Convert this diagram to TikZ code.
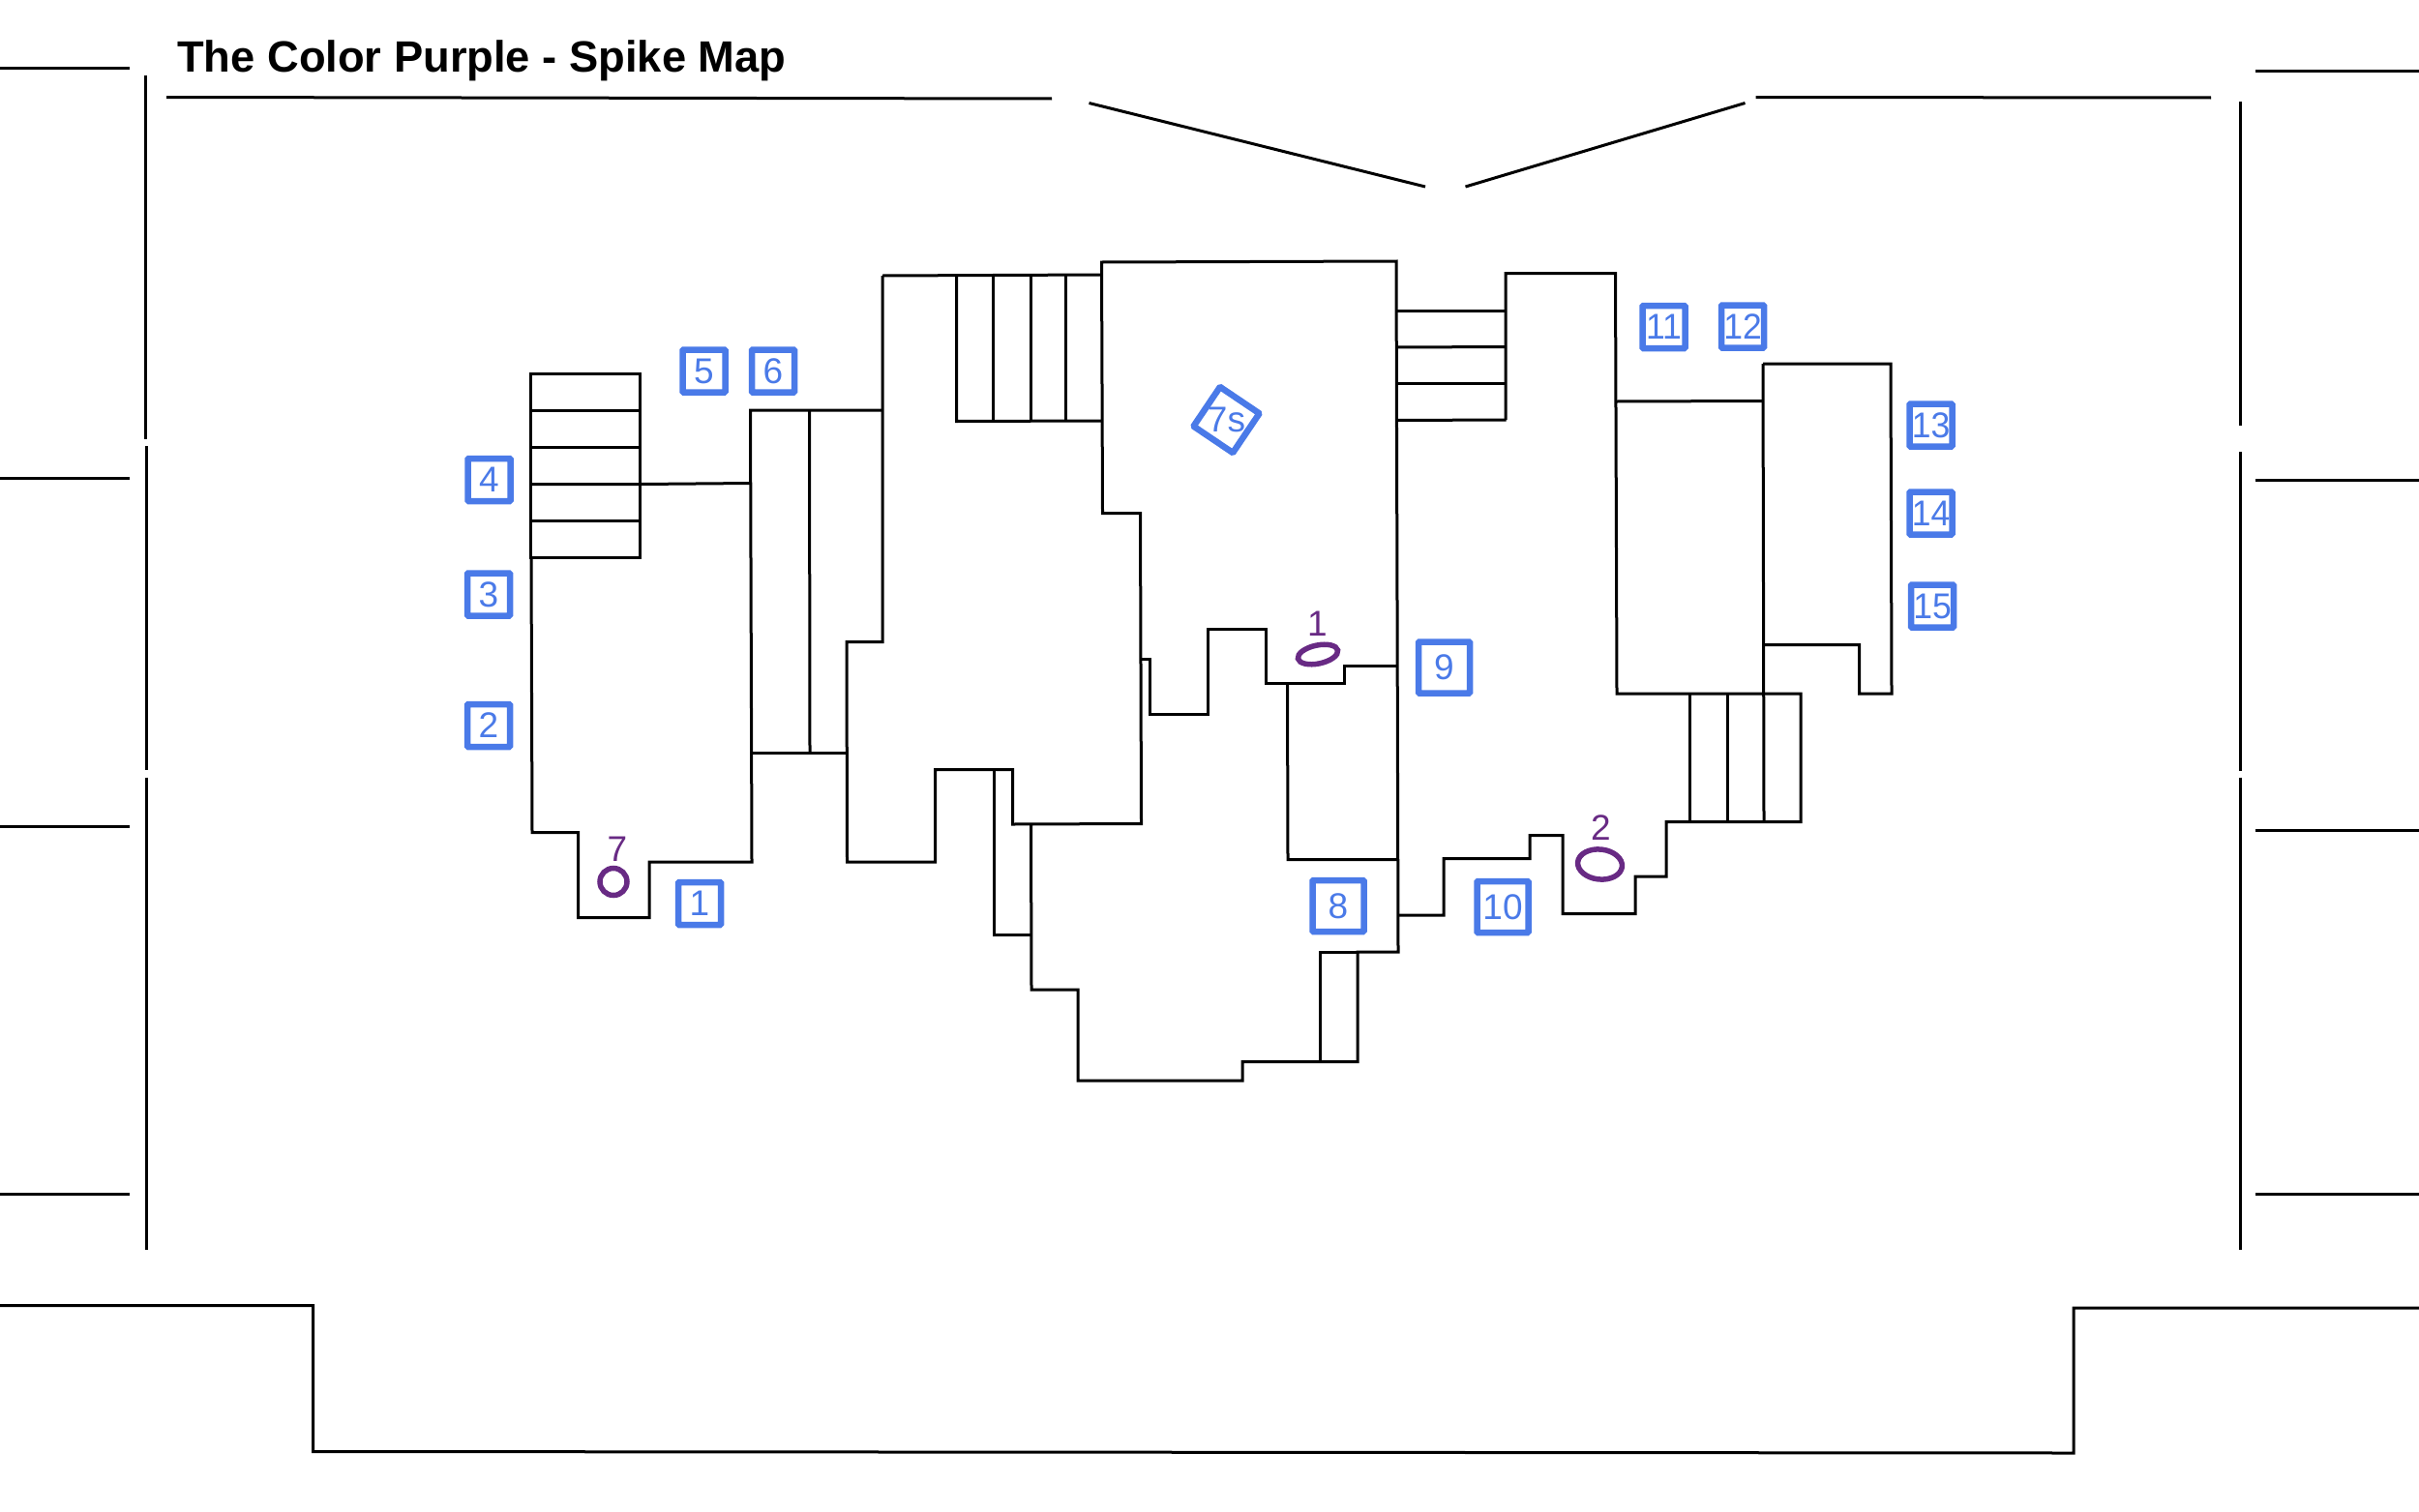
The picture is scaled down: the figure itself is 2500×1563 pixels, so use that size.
\documentclass[tikz,border=0pt]{standalone}
\usepackage{fontspec}
\setmainfont{Liberation Sans}
\newfontfamily\narrowdigits[FakeStretch=0.96]{Liberation Sans}
\usepackage{tikz}
\usetikzlibrary{shapes,arrows,positioning}
\definecolor{spikeblue}{RGB}{74,122,232}
\definecolor{plantpurple}{RGB}{104,42,132}
\tikzset{
  wall/.style={black,line width=3pt,line join=miter},
  spike/.style={draw=spikeblue,text=spikeblue,line width=6.5pt,rounded corners=1pt,
    minimum size=44pt,inner sep=0pt,font=\fontsize{37}{37}\selectfont},
  bigspike/.style={spike,minimum size=53pt},
  wideno/.style={font=\fontsize{37}{37}\selectfont\narrowdigits},
  plantname/.style={text=plantpurple,inner sep=0pt,font=\fontsize{37}{37}\selectfont},
  plant/.style={draw=plantpurple,line width=5.5pt,ellipse,inner sep=0pt},
}
\begin{document}
\begin{tikzpicture}[x=1pt,y=-1pt]
\useasboundingbox (0,0) rectangle (2500,1563);
\node[anchor=base west,inner sep=0pt,font=\fontsize{45.3}{45.3}\selectfont\bfseries] (title)
  at (183,74.5) {The Color Purple - Spike Map};
% outer frame
\draw[wall] (0,70.5) -- (133.5,70.5);
\draw[wall] (0,494.5) -- (133.5,494.5);
\draw[wall] (0,854.5) -- (133.5,854.5);
\draw[wall] (0,1234.5) -- (133.5,1234.5);
\draw[wall] (150,78) -- (150,454);
\draw[wall] (151.5,461) -- (151.5,796);
\draw[wall] (151.5,803.5) -- (151.5,1291.5);
\draw[wall] (172,100.5) -- (1087,102);
\draw[wall] (1125.5,106.5) -- (1473,193);
\draw[wall] (1514.5,193) -- (1803.5,106.5);
\draw[wall] (1814.5,100.5) -- (2285,101);
\draw[wall] (2331,73.5) -- (2500,73.5);
\draw[wall] (2331,496) -- (2500,496);
\draw[wall] (2331,858) -- (2500,858);
\draw[wall] (2331,1234.5) -- (2500,1234.5);
\draw[wall] (2315,105) -- (2315,440);
\draw[wall] (2315,467) -- (2315,797);
\draw[wall] (2315,803.5) -- (2315,1291.5);
\draw[wall] (0,1349.5) -- (323.5,1349.5) -- (323.5,1500.5) -- (2143,1502) -- (2143,1352) -- (2500,1352);
% left site
\draw[wall] (548.5,386) rectangle (661.5,576.5);
\draw[wall] (548.5,424) -- (661.5,424);
\draw[wall] (548.5,462) -- (661.5,462);
\draw[wall] (548.5,500.5) -- (661.5,500.5) -- (775.5,499.5);
\draw[wall] (548.5,538) -- (661.5,538);
\draw[wall] (549,576) -- (550,860.5) -- (597.5,860.5) -- (597.5,948.5) -- (671,948.5) -- (671,891)
  -- (777,891) -- (775.5,424) -- (912,424);
\draw[wall] (836.5,424) -- (837,778);
\draw[wall] (776,778) -- (875,778);
% middle
\draw[wall] (912,285) -- (912,663.5) -- (875,663.5) -- (875.5,891) -- (966.5,891) -- (966.5,795.5)
  -- (1046.5,795.5) -- (1046.5,852) -- (1179.5,851.5) -- (1178.5,530.5) -- (1139.5,530.5)
  -- (1138.5,271) -- (1443,270) -- (1445,984) -- (1403,984) -- (1403,1097.5) -- (1284,1097.5)
  -- (1284,1117) -- (1114,1117) -- (1114,1023) -- (1066,1023) -- (1065.5,852);
\draw[wall] (912,285) -- (1139,284);
\draw[wall] (988.5,285) -- (988.5,435.5) -- (1139,435);
\draw[wall] (1026.5,285) -- (1026.5,435.5);
\draw[wall] (1065,285) -- (1065,435.5);
\draw[wall] (1101.5,285) -- (1101.5,435.5);
\draw[wall] (1027,795.5) -- (1027,966) -- (1065.5,966);
\draw[wall] (1179.5,681) -- (1188.5,681) -- (1188.5,738) -- (1248.5,738) -- (1248.5,650) -- (1308,650)
  -- (1308,706.5) -- (1389.5,706.5) -- (1389.5,688) -- (1444,688);
\draw[wall] (1330.5,706.5) -- (1331,888.5) -- (1445,888.5);
\draw[wall] (1364.5,1097.5) -- (1364.5,984) -- (1403,984);
% right site
\draw[wall] (1443.5,321) -- (1556,321);
\draw[wall] (1443.5,359) -- (1556,358.5);
\draw[wall] (1443.5,396) -- (1556,396);
\draw[wall] (1443.5,434.5) -- (1556.5,434);
\draw[wall] (1556,434) -- (1556,282.5) -- (1669.5,282.5) -- (1671,717) -- (1861,717) -- (1861,849.5)
  -- (1722,849.5) -- (1722,906) -- (1690,906) -- (1690,944.5) -- (1615,944.5) -- (1615,863.5)
  -- (1581,863.5) -- (1581,887.5) -- (1492,887.5) -- (1492,946) -- (1445,946);
\draw[wall] (1670.5,415) -- (1822,414.5);
\draw[wall] (1746.5,717) -- (1746.5,849.5);
\draw[wall] (1785,717) -- (1785,849.5);
\draw[wall] (1822,376) -- (1823,849.5);
\draw[wall] (1822,376) -- (1954,376) -- (1955,717) -- (1921.5,717) -- (1921.5,666.5) -- (1823,666.5);
% spikes
\node[spike] (s1) at (723,934) {1};
\node[spike] (s2) at (505,750) {2};
\node[spike] (s3) at (505,614.5) {3};
\node[spike] (s4) at (505.5,496) {4};
\node[spike] (s5) at (727.5,383.5) {5};
\node[spike] (s6) at (799,383.5) {6};
\node[spike,rotate=-34,minimum size=49pt] (s7s) at (1267.5,434) {};
\node[text=spikeblue,inner sep=0pt,font=\fontsize{37}{37}\selectfont] (s7stext) at (s7s) {7s};
\node[bigspike] (s8) at (1383,936.5) {8};
\node[bigspike] (s9) at (1492.5,690) {9};
\node[bigspike] (s10) at (1553,937.5) {10};
\node[spike,wideno] (s11) at (1719.5,338) {11};
\node[spike,wideno] (s12) at (1801,337.5) {12};
\node[spike,wideno] (s13) at (1995.5,439.5) {13};
\node[spike,wideno] (s14) at (1995.5,530.5) {14};
\node[spike,wideno] (s15) at (1997,626.5) {15};
% plants
\node[plant,minimum width=28pt,minimum height=28pt] (p7) at (634,911.5) {};
\node[plantname] (p7name) at (638,878) {7};
\node[plant,rotate=12,minimum width=42pt,minimum height=19pt] (p1) at (1362,676.5) {};
\node[plantname] (p1name) at (1361.5,645) {1};
\node[plant,rotate=-6,minimum width=46pt,minimum height=31pt] (p2) at (1653.5,893.5) {};
\node[plantname] (p2name) at (1654.5,856) {2};
\end{tikzpicture}
\end{document}
